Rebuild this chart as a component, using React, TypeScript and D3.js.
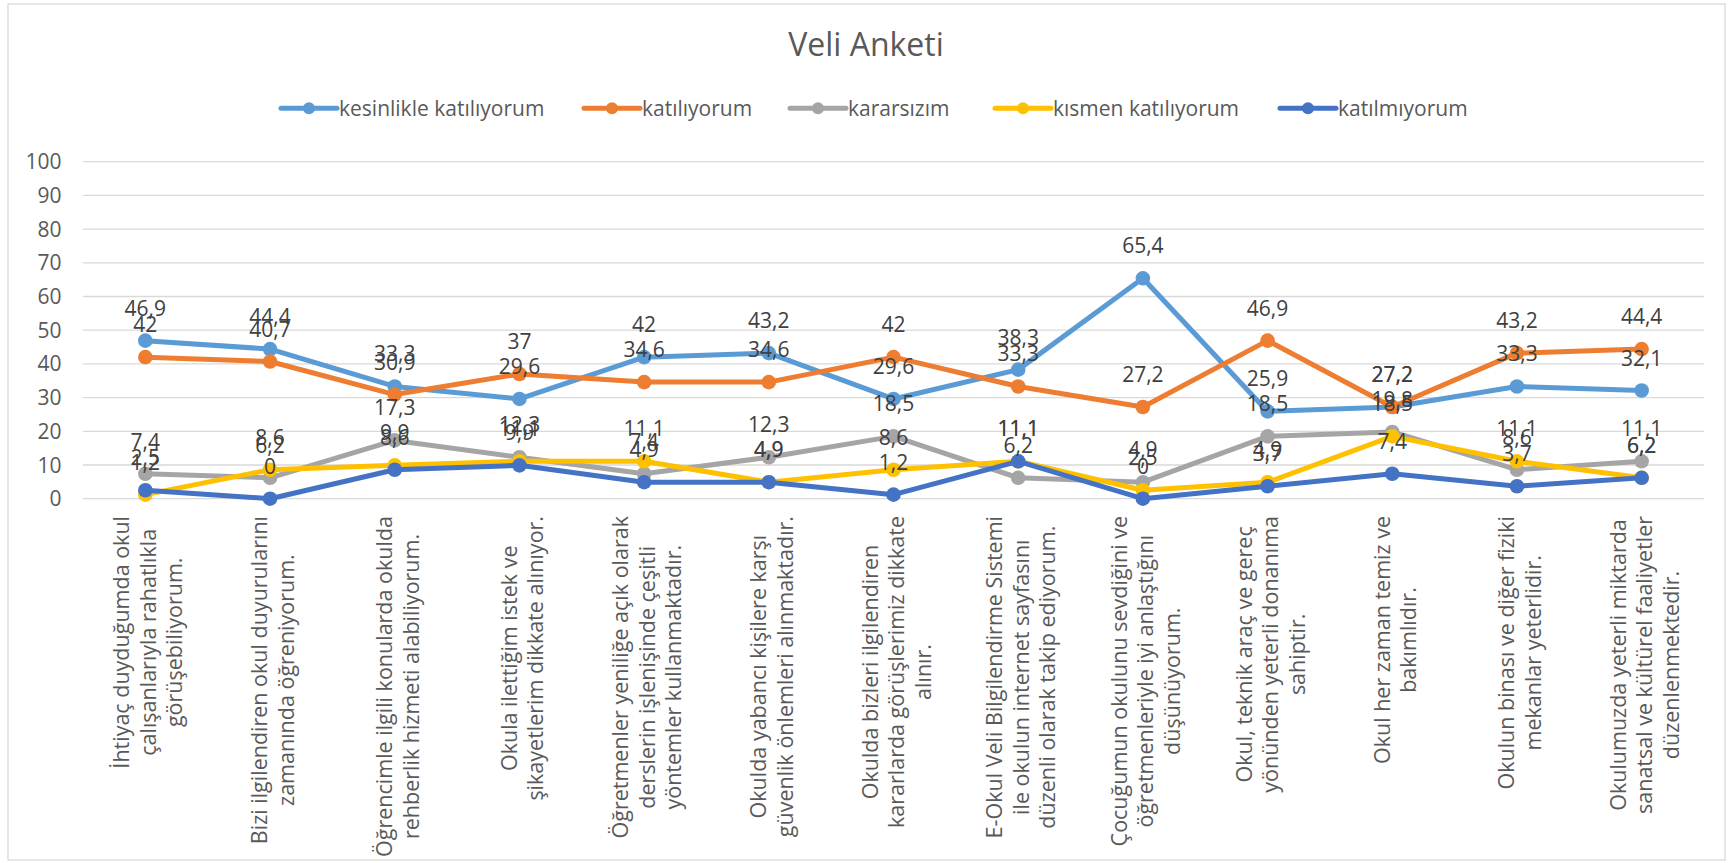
import React from "react";
import * as d3 from "d3";

const categories: string[][] = [
  ["İhtiyaç duyduğumda okul", "çalışanlarıyla rahatlıkla", "görüşebiliyorum."],
  ["Bizi ilgilendiren okul duyurularını", "zamanında öğreniyorum."],
  ["Öğrencimle ilgili konularda okulda", "rehberlik hizmeti alabiliyorum."],
  ["Okula ilettiğim istek ve", "şikayetlerim dikkate alınıyor."],
  ["Öğretmenler yeniliğe açık olarak", "derslerin işlenişinde çeşitli", "yöntemler kullanmaktadır."],
  ["Okulda yabancı kişilere karşı", "güvenlik önlemleri alınmaktadır."],
  ["Okulda bizleri ilgilendiren", "kararlarda görüşlerimiz dikkate", "alınır."],
  ["E-Okul Veli Bilgilendirme Sistemi", "ile okulun internet sayfasını", "düzenli olarak takip ediyorum."],
  ["Çocuğumun okulunu sevdiğini ve", "öğretmenleriyle iyi anlaştığını", "düşünüyorum."],
  ["Okul, teknik araç ve gereç", "yönünden yeterli donanıma", "sahiptir."],
  ["Okul her zaman temiz ve", "bakımlıdır."],
  ["Okulun binası ve diğer fiziki", "mekanlar yeterlidir."],
  ["Okulumuzda yeterli miktarda", "sanatsal ve kültürel faaliyetler", "düzenlenmektedir."],
];

const seriesNames = ["kesinlikle katılıyorum", "katılıyorum", "kararsızım", "kısmen katılıyorum", "katılmıyorum"];
const seriesColors = ["#5B9BD5", "#ED7D31", "#A5A5A5", "#FFC000", "#4472C4"];

const kesinlikle = [46.9, 44.4, 33.3, 29.6, 42, 43.2, 29.6, 38.3, 65.4, 25.9, 27.2, 33.3, 32.1];
const katiliyorum = [42, 40.7, 30.9, 37, 34.6, 34.6, 42, 33.3, 27.2, 46.9, 27.2, 43.2, 44.4];
const kararsizim = [7.4, 6.2, 17.3, 12.3, 7.4, 12.3, 18.5, 6.2, 4.9, 18.5, 19.8, 8.6, 11.1];
const kismen = [1.2, 8.6, 9.9, 11.1, 11.1, 4.9, 8.6, 11.1, 2.5, 4.9, 18.5, 11.1, 6.2];
const katilmiyorum = [2.5, 0, 8.6, 9.9, 4.9, 4.9, 1.2, 11.1, 0, 3.7, 7.4, 3.7, 6.2];

const seriesValues = [kesinlikle, katiliyorum, kararsizim, kismen, katilmiyorum];
const yTicks = [0, 10, 20, 30, 40, 50, 60, 70, 80, 90, 100];

const FONT = "'Open Sans', 'Noto Sans', sans-serif";
const W = 1729;
const H = 863;

let ctx: CanvasRenderingContext2D | null = null;
function measure(text: string, size: number): number {
  if (!ctx) ctx = document.createElement("canvas").getContext("2d");
  if (!ctx) return text.length * size * 0.5;
  ctx.font = `${size}px 'Open Sans'`;
  return ctx.measureText(text).width;
}

const fmt = (v: number) => String(v).replace(".", ",");

export default function App() {
  const x = d3.scalePoint<number>().domain(d3.range(categories.length)).range([83, 1704]).padding(0.5);
  const y = d3.scaleLinear().domain([0, 100]).range([498.7, 161.7]);
  const line = d3
    .line<number>()
    .x((_, i) => x(i) as number)
    .y((d) => y(d));

  const legendX = [309, 612, 818, 1023, 1308];
  const xLabelSize = 21.5;
  const xLabelLH = 26.5;
  const xLabelTop = 516;

  return (
    <svg width={W} height={H} style={{ position: "absolute", left: 0, top: 0, background: "#fff" }} fontFamily={FONT}>
      <rect x={8} y={4} width={1717} height={856} fill="#fff" stroke="#d9d9d9" strokeWidth={1.3} />
      <text x={866} y={56} textAnchor="middle" fontSize={32} fill="#595959">
        Veli Anketi
      </text>
      {seriesNames.map((n, i) => (
        <g key={n}>
          <line x1={legendX[i] - 28} x2={legendX[i] + 28} y1={108.3} y2={108.3} stroke={seriesColors[i]} strokeWidth={5} strokeLinecap="round" />
          <circle cx={legendX[i]} cy={108.3} r={6} fill={seriesColors[i]} />
          <text x={legendX[i] + 30} y={108.3} dy="0.35em" fontSize={21} fill="#595959">
            {n}
          </text>
        </g>
      ))}
      {yTicks.map((t) => (
        <g key={t}>
          <line x1={83} x2={1704} y1={y(t)} y2={y(t)} stroke="#d9d9d9" strokeWidth={1.3} />
          <text x={61.5} y={y(t)} dy="0.36em" textAnchor="end" fontSize={21} fill="#595959">
            {t}
          </text>
        </g>
      ))}
      {categories.map((lines, i) => {
        const maxLen = Math.max(...lines.map((l) => measure(l, xLabelSize)));
        const cx = (x(i) as number) + 3;
        const n = lines.length;
        return (
          <g key={i} transform={`translate(${cx},${xLabelTop + maxLen / 2}) rotate(-90)`}>
            {lines.map((l, j) => (
              <text
                key={j}
                x={0}
                y={(j - (n - 1) / 2) * xLabelLH}
                dy="0.35em"
                textAnchor="middle"
                fontSize={xLabelSize}
                fill="#595959"
              >
                {l}
              </text>
            ))}
          </g>
        );
      })}
      {seriesValues.map((vals, s) => (
        <g key={s}>
          <path d={line(vals) || ""} fill="none" stroke={seriesColors[s]} strokeWidth={5} strokeLinejoin="round" strokeLinecap="round" />
          {vals.map((v, i) => (
            <circle key={i} cx={x(i) as number} cy={y(v)} r={7.3} fill={seriesColors[s]} />
          ))}
        </g>
      ))}
      {seriesValues.map((vals, s) => (
        <g key={"l" + s}>
          {vals.map((v, i) => (
            <text key={i} x={x(i) as number} y={y(v) - 25} textAnchor="middle" fontSize={21} fill="#404040">
              {fmt(v)}
            </text>
          ))}
        </g>
      ))}
    </svg>
  );
}
